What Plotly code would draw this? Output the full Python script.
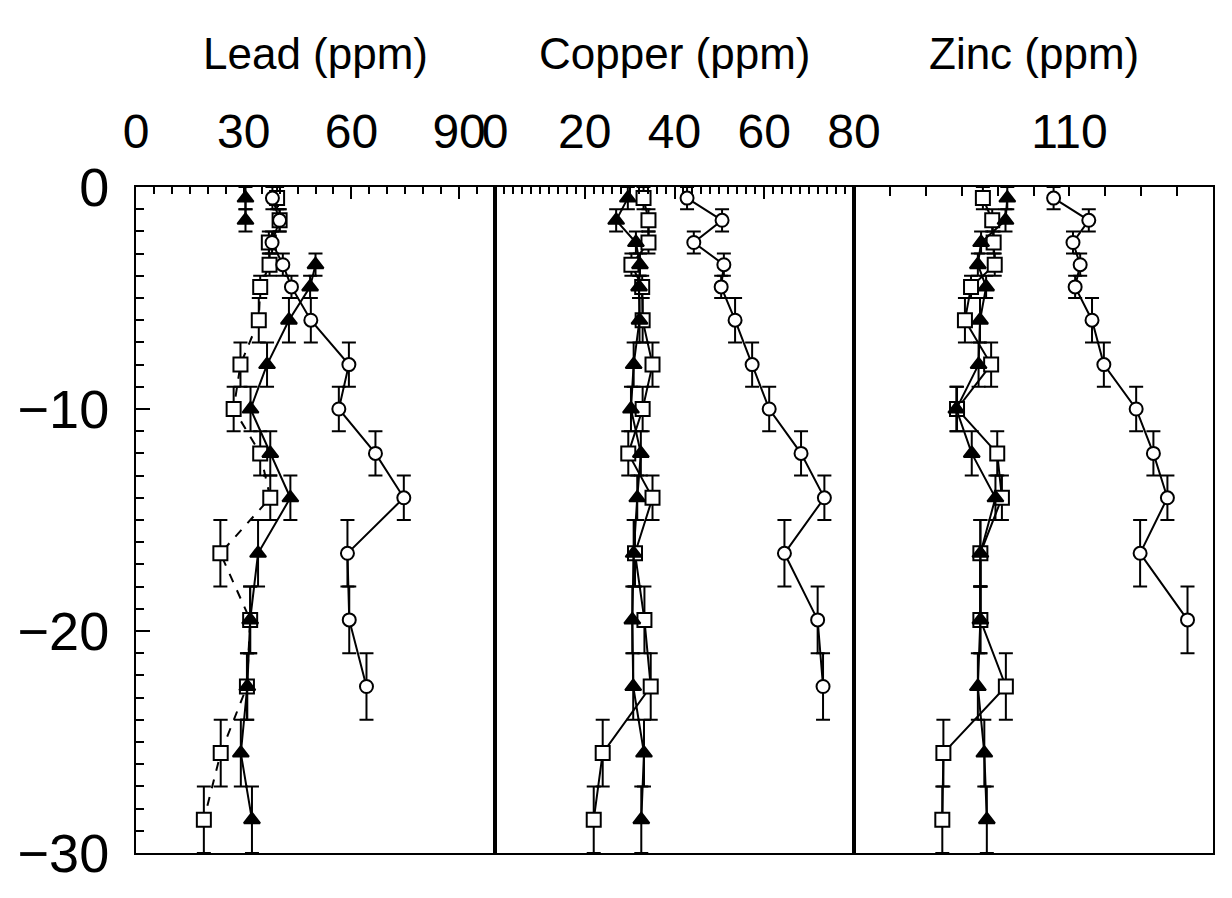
import plotly.graph_objects as go
from plotly.subplots import make_subplots

# depth of sample mid-points (cm) and half-thickness of each slice
depth = [-0.5, -1.5, -2.5, -3.5, -4.5, -6, -8, -10, -12, -14, -16.5, -19.5, -22.5, -25.5, -28.5]
half_thick = [0.5, 0.5, 0.5, 0.5, 0.5, 1, 1, 1, 1, 1, 1.5, 1.5, 1.5, 1.5, 1.5]

lead_tri = [30.5, 30.5, None, 50, 48.5, 42.6, 36.5, 31.9, 37.4, 43, 34, 31.8, 31, 29.2, 32.3]
lead_sq = [39.3, 40, 37, 37.2, 34.6, 34.2, 29.1, 27.2, 34.6, 37.4, 23.5, 31.8, 30.9, 23.6, 18.9]
lead_circ = [38, 40, 37.9, 40.9, 43.3, 48.7, 59.3, 56.5, 66.7, 74.6, 58.9, 59.4, 64.2]

copper_tri = [29.6, 27, 31.4, 32.3, 32.1, 32.2, 30.9, 30.3, 32.5, 31.7, 30.9, 30.6, 30.8, 33.2, 32.6]
copper_sq = [33.1, 34.2, 34.2, 30.4, 32.8, 32.9, 35.1, 32.9, 29.7, 35.1, 31.2, 33.3, 34.7, 24, 22]
copper_circ = [42.8, 50.6, 44.3, 51, 50.4, 53.5, 57.3, 61.1, 68.2, 73.4, 64.5, 71.9, 73.1]

zinc_tri = [92.7, 92.2, 85.4, 84.5, 86.8, 85.1, 84.7, 78.5, 82.8, 89.4, 85.2, 85.2, 84.5, 86.3, 87]
zinc_sq = [85.9, 88.5, 88.9, 89.2, 82.6, 80.9, 88.2, 78.7, 89.9, 91.2, 85.2, 85.2, 92.3, 74.9, 74.6]
zinc_circ = [105.6, 115.4, 111, 113, 111.6, 116.3, 119.6, 128.6, 133.4, 137.3, 129.7, 142.9]

panel_titles = ["Lead (ppm)", "Copper (ppm)", "Zinc (ppm)"]
lead_ticks = [0, 30, 60, 90]
copper_ticks = [0, 20, 40, 60, 80]
zinc_ticks = [60, 70, 80, 90, 100, 110, 120, 130, 140, 150]
zinc_ticktext = ["", "", "", "", "", "110", "", "", "", ""]
depth_ticks = [0, -10, -20, -30]

FONT = "Liberation Sans"
fig = make_subplots(rows=1, cols=3, shared_yaxes=True, horizontal_spacing=0)


def add_series(xs, col, symbol, dash, size):
    n = len(xs)
    fig.add_trace(go.Scatter(
        x=xs, y=depth[:n], mode="lines+markers",
        line=dict(color="black", width=2, dash=dash),
        marker=dict(symbol=symbol, size=size,
                    color="black" if symbol == "triangle-up" else "white",
                    line=dict(color="black", width=2)),
        error_y=dict(type="data", array=half_thick[:n], symmetric=True,
                     color="black", thickness=2, width=7),
        connectgaps=False, showlegend=False, cliponaxis=False,
    ), row=1, col=col)


add_series(lead_sq, 1, "square", "dash", 14)
add_series(lead_tri, 1, "triangle-up", "solid", 14)
add_series(lead_circ, 1, "circle", "solid", 13)
add_series(copper_sq, 2, "square", "solid", 14)
add_series(copper_tri, 2, "triangle-up", "solid", 14)
add_series(copper_circ, 2, "circle", "solid", 13)
add_series(zinc_sq, 3, "square", "solid", 14)
add_series(zinc_tri, 3, "triangle-up", "solid", 14)
add_series(zinc_circ, 3, "circle", "solid", 13)

axis_common = dict(side="top", showline=True, mirror=True, linewidth=2, linecolor="black",
                   showgrid=False, zeroline=False, ticks="inside", tickwidth=2,
                   ticklen=12, tickcolor="black", ticklabelstandoff=18, automargin=False,
                   tickfont=dict(family=FONT, size=48, color="black"))

fig.update_xaxes(range=[0, 100], tickmode="array", tickvals=lead_ticks,
                 minor=dict(dtick=5, tick0=0, ticks="inside", ticklen=7, tickwidth=1.5, tickcolor="black"),
                 row=1, col=1, **axis_common)
fig.update_xaxes(range=[0, 80], tickmode="array", tickvals=copper_ticks,
                 minor=dict(dtick=2, tick0=0, ticks="inside", ticklen=7, tickwidth=1.5, tickcolor="black"),
                 row=1, col=2, **axis_common)
fig.update_xaxes(range=[50, 150], tickmode="array", tickvals=zinc_ticks, ticktext=zinc_ticktext,
                 row=1, col=3, **dict(axis_common, ticklen=9))

fig.update_yaxes(range=[-30, 0], showline=True, mirror=True, linewidth=2, linecolor="black",
                 showgrid=False, zeroline=False, automargin=False)
fig.update_yaxes(tickmode="array", tickvals=depth_ticks, ticks="inside", ticklen=14, tickwidth=2,
                 tickcolor="black", ticklabelstandoff=14,
                 tickfont=dict(family=FONT, size=54, color="black"),
                 minor=dict(dtick=1, tick0=0, ticks="inside", ticklen=8, tickwidth=1.5, tickcolor="black"),
                 row=1, col=1)
fig.update_yaxes(ticks="", showticklabels=False, row=1, col=2)
fig.update_yaxes(ticks="", showticklabels=False, row=1, col=3)

for i, t in enumerate(panel_titles):
    fig.add_annotation(text=t, xref="x domain" if i == 0 else f"x{i+1} domain",
                       yref="paper", x=0.5, y=1, yshift=160, showarrow=False,
                       font=dict(family=FONT, size=44, color="black"))

fig.update_layout(width=1232, height=898, paper_bgcolor="white", plot_bgcolor="white",
                  margin=dict(l=136, r=19, t=187, b=45, autoexpand=False))

fig.write_html("out.html")
